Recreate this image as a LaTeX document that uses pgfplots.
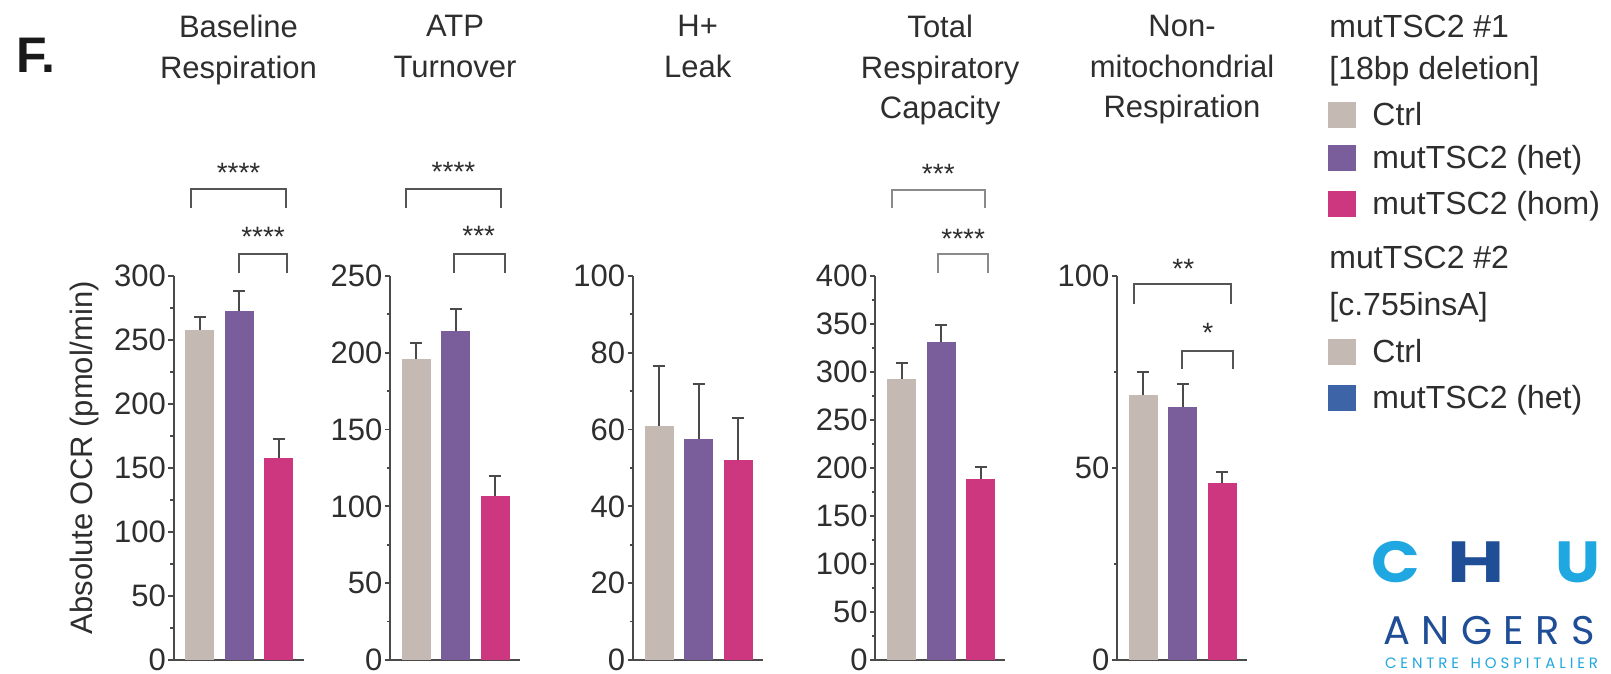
\documentclass[border=0pt]{standalone}
\usepackage{pgfplots}
\pgfplotsset{compat=1.18}
\usepackage{fontspec}
\setmainfont{Liberation Sans}
\newfontfamily\logofont{Poppins}
\definecolor{cgray}{HTML}{C4BAB3}
\definecolor{cpurple}{HTML}{7A5E9C}
\definecolor{cpink}{HTML}{CD3780}
\definecolor{cblue}{HTML}{3D64A6}
\definecolor{axgray}{HTML}{4A4A4A}
\definecolor{brkgray}{HTML}{555555}
\definecolor{brklight}{HTML}{8A8A8A}
\definecolor{txt}{HTML}{2E2E2E}
\definecolor{logolight}{HTML}{1EA7E0}
\definecolor{logodark}{HTML}{1F4E96}
\pgfplotsset{
  panel/.style={
    scale only axis, width=65pt, height=192pt,
    xmin=0.332, xmax=3.623, ymin=0,
    axis lines=left, axis line style={-, color=axgray, line width=1pt},
    xtick=\empty,
    tick align=outside,
    major tick length=2.6pt, minor tick length=1.6pt,
    tick style={color=axgray, line width=0.9pt},
    minor y tick num=1,
    yticklabel style={font=\fontsize{15.5}{16}\selectfont, text=txt, inner sep=1pt},
    /pgf/number format/assume math mode=true,
    ybar, bar shift=0pt, bar width=0.734,
    clip=false,
    title style={at={(axis description cs:0.5,1.649)}, anchor=north, align=center, inner sep=0pt, font=\fontsize{15.5}{20.25}\selectfont, text=txt},
  },
  mybar/.style={fill=#1, draw=none,
    error bars/.cd, y dir=plus, y explicit,
    error bar style={line width=1pt, color=axgray},
    error mark options={rotate=90, mark size=3pt, line width=1pt, color=axgray}},
}
\tikzset{
  brk/.style={draw=brkgray, line width=1pt},
  stars/.style={font=\fontsize{14}{14}\selectfont, inner sep=0pt, anchor=base, yshift=-8.1pt, text=txt},
  leg/.style={anchor=base west, inner sep=0pt, font=\fontsize{16}{16}\selectfont, text=txt},
  logo/.style={anchor=base, inner sep=0pt, font=\logofont\bfseries\fontsize{29}{29}\selectfont},
}
\begin{document}
\begin{tikzpicture}
\clip (0pt,0pt) rectangle (805.5pt,337pt);

% Panel 1
\begin{axis}[panel, at={(86.75pt,7pt)}, anchor=south west,
  ymax=300, ytick={0,50,...,300}, title={Baseline\\Respiration},
  ylabel={Absolute OCR (pmol/min)},
  ylabel style={at={(axis description cs:-0.688,0.527)}, anchor=center, inner sep=0pt, font=\fontsize{15.5}{16}\selectfont, text=txt}]
\addplot[mybar=cgray] coordinates {(1,258) +- (0,10)};
\addplot[mybar=cpurple] coordinates {(2,273) +- (0,15)};
\addplot[mybar=cpink] coordinates {(3,158) +- (0,15)};
\draw[brk] (axis cs:0.78,353) |- (axis cs:3.18,367.7) -- (axis cs:3.18,353);
\node[stars] at (axis cs:1.98,386) {****};
\draw[brk] (axis cs:1.98,302.6) |- (axis cs:3.2,317) -- (axis cs:3.2,302.6);
\node[stars] at (axis cs:2.6,336) {****};
\end{axis}

% Panel 2
\begin{axis}[panel, at={(195pt,7pt)}, anchor=south west,
  ymax=250, ytick={0,50,...,250}, title={ATP\\Turnover}]
\addplot[mybar=cgray] coordinates {(1,196) +- (0,10.5)};
\addplot[mybar=cpurple] coordinates {(2,214.5) +- (0,14)};
\addplot[mybar=cpink] coordinates {(3,107) +- (0,13)};
\draw[brk] (axis cs:0.73,294.2) |- (axis cs:3.14,306.4) -- (axis cs:3.14,294.2);
\node[stars] at (axis cs:1.94,321.9) {****};
\draw[brk] (axis cs:1.94,252.2) |- (axis cs:3.25,264.4) -- (axis cs:3.25,252.2);
\node[stars] at (axis cs:2.58,280.5) {***};
\end{axis}

% Panel 3
\begin{axis}[panel, at={(316.35pt,7pt)}, anchor=south west,
  ymax=100, ytick={0,20,...,100}, title={H+\\Leak}]
\addplot[mybar=cgray] coordinates {(1,61) +- (0,15.5)};
\addplot[mybar=cpurple] coordinates {(2,57.5) +- (0,14.5)};
\addplot[mybar=cpink] coordinates {(3,52) +- (0,11)};
\end{axis}

% Panel 4
\begin{axis}[panel, at={(437.6pt,7pt)}, anchor=south west,
  ymax=400, ytick={0,50,...,400}, title={Total\\Respiratory\\Capacity}]
\addplot[mybar=cgray] coordinates {(1,293) +- (0,16)};
\addplot[mybar=cpurple] coordinates {(2,331) +- (0,17.5)};
\addplot[mybar=cpink] coordinates {(3,189) +- (0,12)};
\draw[brk, draw=brklight] (axis cs:0.76,470.8) |- (axis cs:3.12,490) -- (axis cs:3.12,470.8);
\node[stars] at (axis cs:1.93,513) {***};
\draw[brk, draw=brklight] (axis cs:1.93,403.5) |- (axis cs:3.18,423) -- (axis cs:3.18,403.5);
\node[stars] at (axis cs:2.56,446) {****};
\end{axis}

% Panel 5
\begin{axis}[panel, at={(558.5pt,7pt)}, anchor=south west,
  ymax=100, ytick={0,50,100}, title={Non-\\mitochondrial\\Respiration}]
\addplot[mybar=cgray] coordinates {(1,69) +- (0,6)};
\addplot[mybar=cpurple] coordinates {(2,66) +- (0,6)};
\addplot[mybar=cpink] coordinates {(3,46) +- (0,3)};
\draw[brk] (axis cs:0.75,92.7) |- (axis cs:3.23,97.8) -- (axis cs:3.23,92.7);
\node[stars] at (axis cs:2.01,103.5) {**};
\draw[brk] (axis cs:1.97,75.9) |- (axis cs:3.27,80.5) -- (axis cs:3.27,75.9);
\node[stars] at (axis cs:2.63,86.9) {*};
\end{axis}

% Panel letter
\node[anchor=base west, inner sep=0pt, font=\bfseries\fontsize{25}{25}\selectfont, text=black!90] at (8pt,300.5pt) {F.};

% Legend
\node[leg] at (664.5pt,318pt) {mutTSC2 \#1};
\node[leg] at (664.5pt,297pt) {[18bp deletion]};
\fill[cgray] (664pt,273pt) rectangle ++(14pt,13pt);
\node[leg] at (686pt,274pt) {Ctrl};
\fill[cpurple] (664pt,251.5pt) rectangle ++(14pt,13pt);
\node[leg] at (686pt,252.5pt) {mutTSC2 (het)};
\fill[cpink] (664pt,228.5pt) rectangle ++(14pt,13pt);
\node[leg] at (686pt,229.5pt) {mutTSC2 (hom)};
\node[leg] at (664.5pt,202.5pt) {mutTSC2 \#2};
\node[leg] at (664.5pt,179pt) {[c.755insA]};
\fill[cgray] (664pt,154.5pt) rectangle ++(14pt,13pt);
\node[leg] at (686pt,155.5pt) {Ctrl};
\fill[cblue] (664pt,131.5pt) rectangle ++(14pt,13pt);
\node[leg] at (686pt,132.5pt) {mutTSC2 (het)};

% Logo
\node[logo, text=logolight] at (698pt,45.5pt) {\scalebox{1.1}[1]{C}};
\node[logo, text=logodark] at (738pt,45.5pt) {\scalebox{1.35}[1]{H}};
\node[logo, text=logolight] at (789pt,45.5pt) {\scalebox{1.1}[1]{U}};
\node[anchor=base, inner sep=0pt, text=logodark, font=\logofont\fontsize{20}{20}\selectfont] at (744.5pt,14.5pt) {\makebox[106pt][s]{A\hfill N\hfill G\hfill E\hfill R\hfill S}};
\node[anchor=base, inner sep=0pt, text=logolight, font=\logofont\fontsize{7.5}{7.5}\selectfont] at (745.75pt,2.6pt) {\makebox[106.5pt][s]{C\hfill E\hfill N\hfill T\hfill R\hfill E\hfill\hfill\hfill H\hfill O\hfill S\hfill P\hfill I\hfill T\hfill A\hfill L\hfill I\hfill E\hfill R}};
\end{tikzpicture}
\end{document}
